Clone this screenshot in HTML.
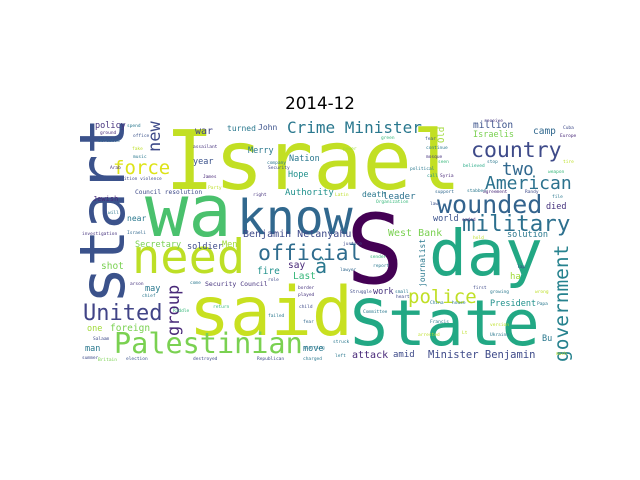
<!DOCTYPE html>
<html><head><meta charset="utf-8"><style>
html,body{margin:0;padding:0;background:#fff;}
svg{display:block;}
.w{font-family:"DejaVu Sans Mono","Liberation Mono",monospace;}
</style></head><body>
<svg width="640" height="480" viewBox="0 0 640 480" xmlns="http://www.w3.org/2000/svg">
<rect x="0" y="0" width="640" height="480" fill="#fff"/>
<text x="320" y="109" text-anchor="middle" font-family="DejaVu Sans, Liberation Sans, sans-serif" font-size="16.7" fill="#000">2014-12</text>
<g class="w">
<text x="165" y="189" font-size="82" fill="#c2df23">Israel</text>
<text x="145" y="236" font-size="72" fill="#4ac16d">wa</text>
<text x="237" y="234" font-size="48" fill="#31688e">know</text>
<text x="346" y="283" font-size="96" fill="#440154">S</text>
<text x="429" y="275" font-size="63" fill="#22a884">day</text>
<text x="350" y="345" font-size="63" fill="#22a884">State</text>
<text x="189" y="335" font-size="68" fill="#c8e020">said</text>
<text x="132" y="273" font-size="47" fill="#bddf26">need</text>
<text transform="translate(124,304) rotate(-90)" font-size="62" fill="#3b528b">start</text>
<text x="287" y="133" font-size="16" fill="#2a788e">Crime Minister</text>
<text x="471" y="157" font-size="21.5" fill="#3e4a89">country</text>
<text x="502" y="175" font-size="17.5" fill="#31688e">two</text>
<text x="485" y="189" font-size="18" fill="#2c728e">American</text>
<text x="437" y="213" font-size="25" fill="#33638d">wounded</text>
<text x="462" y="231" font-size="22.5" fill="#2d708e">military</text>
<text x="258" y="260" font-size="21.5" fill="#2f6c8e">official</text>
<text x="113" y="174" font-size="19" fill="#dde318">force</text>
<text transform="translate(160,152) rotate(-90)" font-size="17" fill="#3e4a89">new</text>
<text x="83" y="320" font-size="22" fill="#414487">United</text>
<text x="114" y="353" font-size="28.5" fill="#7ad151">Palestinian</text>
<text x="408" y="303" font-size="19" fill="#c0df25">police</text>
<text transform="translate(568,362) rotate(-90)" font-size="19.5" fill="#26828e">government</text>
<text transform="translate(179,336) rotate(-90)" font-size="17" fill="#482878">group</text>
<text x="315" y="273" font-size="20" fill="#2a788e">â</text>
<text x="95" y="128" font-size="8.5" fill="#46337e">policy</text>
<text x="195" y="134" font-size="10" fill="#414487">war</text>
<text x="227" y="131" font-size="8" fill="#2a788e">turned</text>
<text x="258" y="130" font-size="8" fill="#3b528b">John</text>
<text x="248" y="153" font-size="8.5" fill="#2a788e">Merry</text>
<text x="193" y="164" font-size="8.5" fill="#3b528b">year</text>
<text x="289" y="161" font-size="8.5" fill="#2a788e">Nation</text>
<text x="288" y="177" font-size="8.5" fill="#21918c">Hope</text>
<text x="285" y="195" font-size="9" fill="#21918c">Authority</text>
<text x="135" y="194" font-size="6.2" fill="#3e4a89">Council resolution</text>
<text x="93" y="201" font-size="7" fill="#482878">Jewish</text>
<text x="127" y="221" font-size="8" fill="#2a788e">near</text>
<text x="243" y="237" font-size="10" fill="#3e4a89">Benjamin Netanyahu</text>
<text x="473" y="128" font-size="9.5" fill="#3b528b">million</text>
<text x="473" y="137" font-size="8.5" fill="#7ad151">Israelis</text>
<text transform="translate(444,143) rotate(-90)" font-size="9" fill="#a0da39">Old</text>
<text x="533" y="134" font-size="9.5" fill="#31688e">camp</text>
<text x="362" y="197" font-size="8" fill="#2a788e">death</text>
<text x="383" y="199" font-size="9" fill="#2c728e">leader</text>
<text x="388" y="236" font-size="10" fill="#7ad151">West Bank</text>
<text x="433" y="221" font-size="8.5" fill="#3b528b">world</text>
<text x="507" y="237" font-size="8.5" fill="#2a788e">solution</text>
<text x="546" y="209" font-size="8.5" fill="#46337e">died</text>
<text x="135" y="247" font-size="8.5" fill="#7ad151">Secretary</text>
<text x="187" y="249" font-size="8.5" fill="#3e4a89">soldier</text>
<text x="222" y="247" font-size="8.5" fill="#a0da39">Men</text>
<text x="101" y="269" font-size="9.5" fill="#7ad151">shot</text>
<text x="257" y="274" font-size="9.5" fill="#21918c">fire</text>
<text x="288" y="268" font-size="9.5" fill="#482878">say</text>
<text x="293" y="279" font-size="9.5" fill="#35b779">Last</text>
<text x="145" y="291" font-size="8.5" fill="#2a788e">may</text>
<text x="205" y="286" font-size="6.5" fill="#46337e">Security Council</text>
<text x="87" y="331" font-size="8.5" fill="#a0da39">one</text>
<text x="110" y="331" font-size="9.5" fill="#7ad151">foreign</text>
<text x="85" y="351" font-size="8.5" fill="#2a788e">man</text>
<text x="303" y="351" font-size="8.5" fill="#2a788e">move</text>
<text transform="translate(425,287) rotate(-90)" font-size="8" fill="#2a788e">journalist</text>
<text x="510" y="279" font-size="9" fill="#a0da39">ha</text>
<text x="373" y="294" font-size="8.5" fill="#46337e">work</text>
<text x="490" y="306" font-size="8.5" fill="#21918c">President</text>
<text x="542" y="341" font-size="8.5" fill="#2a788e">Bu</text>
<text x="352" y="358" font-size="10" fill="#482878">attack</text>
<text x="393" y="357" font-size="9" fill="#3e4a89">amid</text>
<text x="428" y="358" font-size="10.5" fill="#3e4a89">Minister Benjamin</text>
<g font-size="4.5">
<text x="127" y="127" fill="#2a788e">spend</text>
<text x="100" y="134" fill="#482878">ground</text>
<text x="133" y="137" fill="#3b528b">office</text>
<text x="98" y="142" fill="#31688e">defeated</text>
<text x="132" y="150" fill="#bddf26">fake</text>
<text x="133" y="158" fill="#2a788e">music</text>
<text x="110" y="169" fill="#46337e">Arab</text>
<text x="113" y="180" fill="#3e4a89">coalition violence</text>
<text x="193" y="148" fill="#46337e">assailant</text>
<text x="267" y="164" fill="#2a788e">company</text>
<text x="268" y="169" fill="#3e4a89">Security</text>
<text x="203" y="178" fill="#482878">James</text>
<text x="208" y="189" fill="#bddf26">Party</text>
<text x="253" y="196" fill="#46337e">right</text>
<text x="108" y="214" fill="#2a788e">will</text>
<text x="82" y="235" fill="#46337e">investigation</text>
<text x="127" y="234" fill="#31688e">Israeli</text>
<text x="484" y="122" fill="#46337e">receive</text>
<text x="563" y="129" fill="#3e4a89">Cuba</text>
<text x="560" y="137" fill="#482878">Europe</text>
<text x="381" y="139" fill="#35b779">green</text>
<text x="343" y="150" fill="#a0da39">power</text>
<text x="425" y="140" fill="#3b528b">fear</text>
<text x="426" y="149" fill="#2a788e">continue</text>
<text x="426" y="158" fill="#46337e">mosque</text>
<text x="438" y="163" fill="#35b779">seen</text>
<text x="410" y="170" fill="#2a788e">political</text>
<text x="463" y="167" fill="#22a884">believed</text>
<text x="487" y="163" fill="#2a788e">stop</text>
<text x="427" y="177" fill="#21918c">call</text>
<text x="440" y="177" fill="#482878">Syria</text>
<text x="548" y="173" fill="#35b779">weapon</text>
<text x="563" y="163" fill="#bddf26">tire</text>
<text x="435" y="193" fill="#31688e">support</text>
<text x="467" y="192" fill="#2a788e">stabbed</text>
<text x="483" y="193" fill="#482878">agreement</text>
<text x="525" y="193" fill="#3e4a89">Randy</text>
<text x="552" y="198" fill="#2a788e">file</text>
<text x="376" y="203" fill="#35b779">Organization</text>
<text x="335" y="196" fill="#bddf26">Latin</text>
<text x="430" y="205" fill="#3b528b">law</text>
<text x="462" y="221" fill="#482878">ended</text>
<text x="343" y="245" fill="#3e4a89">justice</text>
<text x="473" y="239" fill="#bddf26">hold</text>
<text x="130" y="285" fill="#46337e">arson</text>
<text x="142" y="297" fill="#2a788e">chief</text>
<text x="190" y="284" fill="#2a788e">come</text>
<text x="268" y="281" fill="#3e4a89">role</text>
<text x="298" y="289" fill="#46337e">border</text>
<text x="298" y="296" fill="#46337e">played</text>
<text x="213" y="308" fill="#35b779">return</text>
<text x="299" y="308" fill="#3e4a89">child</text>
<text x="268" y="317" fill="#2a788e">failed</text>
<text x="303" y="323" fill="#31688e">fear</text>
<text x="173" y="312" fill="#35b779">Riddle</text>
<text x="303" y="349" fill="#2a788e">starring</text>
<text x="303" y="360" fill="#2a788e">charged</text>
<text x="98" y="361" fill="#7ad151">Britain</text>
<text x="126" y="360" fill="#3b528b">election</text>
<text x="193" y="360" fill="#3e4a89">destroyed</text>
<text x="257" y="360" fill="#3e4a89">Republican</text>
<text x="93" y="340" fill="#3e4a89">Salaam</text>
<text x="82" y="359" fill="#3e4a89">summer</text>
<text x="340" y="271" fill="#31688e">lawyer</text>
<text x="373" y="267" fill="#2a788e">report</text>
<text x="370" y="258" fill="#35b779">sender</text>
<text x="350" y="293" fill="#3e4a89">Struggle</text>
<text x="395" y="293" fill="#2a788e">small</text>
<text x="396" y="298" fill="#3e4a89">heart</text>
<text x="430" y="304" fill="#2a788e">China</text>
<text x="452" y="304" fill="#2a788e">house</text>
<text x="363" y="313" fill="#2a788e">Committee</text>
<text x="430" y="323" fill="#2a788e">Francis</text>
<text x="462" y="334" fill="#bddf26">Lt</text>
<text x="418" y="336" fill="#bddf26">arrested</text>
<text x="333" y="343" fill="#2a788e">struck</text>
<text x="335" y="357" fill="#2a788e">left</text>
<text x="556" y="355" fill="#bddf26">much</text>
<text x="490" y="336" fill="#2a788e">Ukraine</text>
<text x="490" y="326" fill="#bddf26">version</text>
<text x="490" y="293" fill="#2a788e">growing</text>
<text x="537" y="305" fill="#2a788e">Papa</text>
<text x="473" y="289" fill="#3e4a89">first</text>
<text x="535" y="293" fill="#bddf26">wrong</text>
<text x="517" y="268" fill="#3e4a89">lap</text>
</g>
</g>
</svg>
</body></html>
